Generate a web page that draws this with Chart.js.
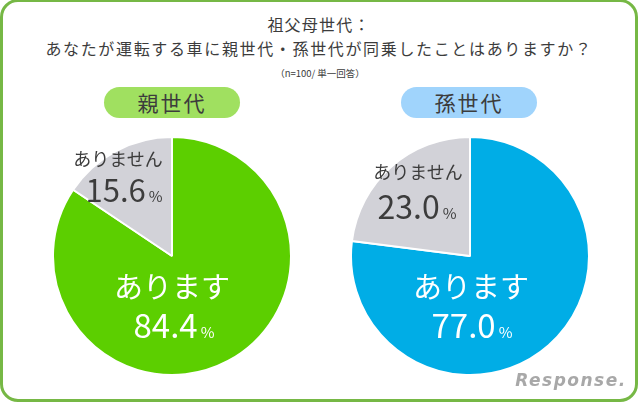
<!DOCTYPE html>
<html lang="ja">
<head>
<meta charset="utf-8">
<script src="https://cdn.jsdelivr.net/npm/chart.js@4"></script>
<style>
  html, body { margin: 0; padding: 0; background: #fff; }
  #page { position: relative; width: 640px; height: 402px; overflow: hidden; font-family: "Noto Sans CJK JP", sans-serif; color: #3c3c3c; }
  #frame { position: absolute; left: 0; top: -1px; width: 632px; height: 397px; border: 3px solid #76b845; border-radius: 18px; }
  .t { position: absolute; white-space: nowrap; transform: translate(-50%, -50%); line-height: 1; }
  .pill { position: absolute; top: 87px; width: 136px; height: 31px; border-radius: 16px; font-size: 21px; line-height: 30px; text-align: center; letter-spacing: 2px; }
  canvas { position: absolute; }
  .pct { font-size: 15px; margin-left: 3px; }
</style>
</head>
<body>
<div id="page">
  <div id="frame"></div>
  <div class="t" style="left:319px;top:24px;font-size:16px;letter-spacing:1.2px">祖父母世代：</div>
  <div class="t" style="left:319px;top:48px;font-size:16px;letter-spacing:1.65px">あなたが運転する車に親世代・孫世代が同乗したことはありますか？</div>
  <div class="t" style="left:320px;top:74px;font-size:9.5px">（n=100/ 単一回答）</div>
  <div class="pill" style="left:104px;background:#a0e060">親世代</div>
  <div class="pill" style="left:401px;background:#a0d4fc">孫世代</div>
  <div style="position:absolute;left:52px;top:136px;width:240px;height:240px"><canvas id="parentPie"></canvas></div>
  <div style="position:absolute;left:350px;top:136px;width:240px;height:240px"><canvas id="grandPie"></canvas></div>
  <div class="t" style="left:118px;top:158px;font-size:18px">ありません</div>
  <div class="t" style="left:124px;top:188px;font-size:31px">15.6<span class="pct">%</span></div>
  <div class="t" style="left:418px;top:171px;font-size:18px">ありません</div>
  <div class="t" style="left:417px;top:205px;font-size:32px">23.0<span class="pct">%</span></div>
  <div class="t" style="left:172px;top:285px;font-size:29px;color:#fff">あります</div>
  <div class="t" style="left:174px;top:324px;font-size:33px;color:#fff">84.4<span class="pct">%</span></div>
  <div class="t" style="left:471px;top:285px;font-size:29px;color:#fff">あります</div>
  <div class="t" style="left:472px;top:324px;font-size:33px;color:#fff">77.0<span class="pct">%</span></div>
  <div class="t" style="left:571px;top:380px;font-size:17px;letter-spacing:1.5px;font-family:'DejaVu Sans';font-style:italic;font-weight:bold;color:#a8a8a8">Response.</div>
</div>
<script>
// データ
const answers = ['あります', 'ありません'];
const parentValues = [84.4, 15.6];
const grandValues = [77.0, 23.0];
const parentColors = ['#5ccf00', '#d2d2d8'];
const grandColors = ['#00ade6', '#d2d2d8'];

function drawPie(id, values, colors) {
    new Chart(document.getElementById(id), {
        type: 'pie',
        data: {
            labels: answers,
            datasets: [{ data: values, backgroundColor: colors, borderColor: '#fff', borderWidth: 2 }]
        },
        options: {
            responsive: true,
            maintainAspectRatio: false,
            animation: false,
            layout: { padding: 0 },
            plugins: { legend: { display: false }, tooltip: { enabled: false } }
        }
    });
}

drawPie('parentPie', parentValues, parentColors);
drawPie('grandPie', grandValues, grandColors);
</script>
</body>
</html>
